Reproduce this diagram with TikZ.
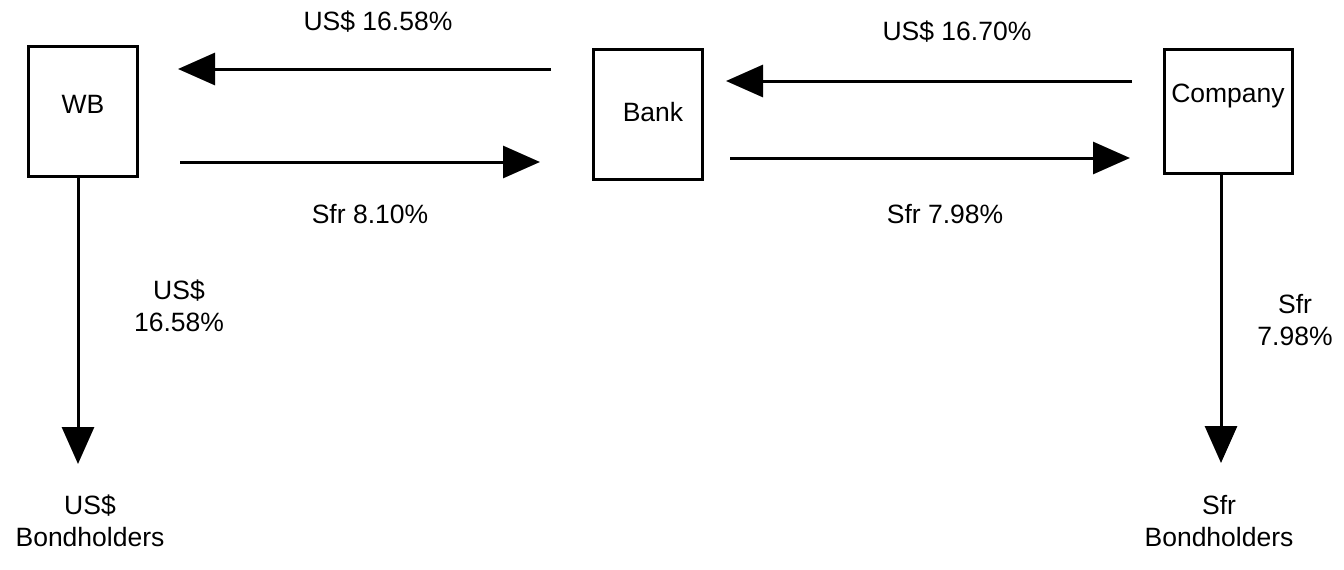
\documentclass[tikz,border=0pt]{standalone}
\usepackage{fontspec}
\setmainfont{Liberation Sans}
\usetikzlibrary{arrows.meta}
\begin{document}
\begin{tikzpicture}[x=1pt,y=-1pt,
  box/.style={draw,line width=3pt,inner sep=0pt},
  lbl/.style={font=\fontsize{26.5}{32}\selectfont,inner sep=0pt,align=center},
  flow/.style={line width=3pt,-{Triangle[length=37pt,width=32pt]}}]
\useasboundingbox (0,0) rectangle (1344,570);
\node[box,minimum width=109pt,minimum height=130pt] (wb) at (82.5,111) {};
\node[box,minimum width=109pt,minimum height=130pt] (bank) at (647.5,114) {};
\node[box,minimum width=128pt,minimum height=124pt] (co) at (1228,111) {};
\node[lbl] (wbt) at (83,104) {WB};
\node[lbl] (bankt) at (653,112) {Bank};
\node[lbl] (cot) at (1228,96) {Company};
\coordinate (a1s) at (551,69); \coordinate (a1e) at (178,69);
\coordinate (a2s) at (180,162); \coordinate (a2e) at (540,162);
\coordinate (a3s) at (1132,81); \coordinate (a3e) at (726,81);
\coordinate (a4s) at (730,158); \coordinate (a4e) at (1130,158);
\coordinate (vl) at (78,464); \coordinate (vr) at (1221,463);
\draw[flow] (a1s) -- (a1e);
\draw[flow] (a2s) -- (a2e);
\draw[flow] (a3s) -- (a3e);
\draw[flow] (a4s) -- (a4e);
\draw[flow] (wb.south -| vl) -- (vl);
\draw[flow] (co.south -| vr) -- (vr);
\node[lbl] (l1) at (378,22) {US\$ 16.58\%};
\node[lbl] (l2) at (957,32) {US\$ 16.70\%};
\node[lbl] (l3) at (370,214) {Sfr 8.10\%};
\node[lbl] (l4) at (945,214) {Sfr 7.98\%};
\node[lbl] (l5) at (179,306) {US\$\\16.58\%};
\node[lbl] (l6) at (1295,320) {Sfr\\7.98\%};
\node[lbl] (b1) at (90,521) {US\$\\Bondholders};
\node[lbl] (b2) at (1219,521) {Sfr\\Bondholders};
\end{tikzpicture}
\end{document}
